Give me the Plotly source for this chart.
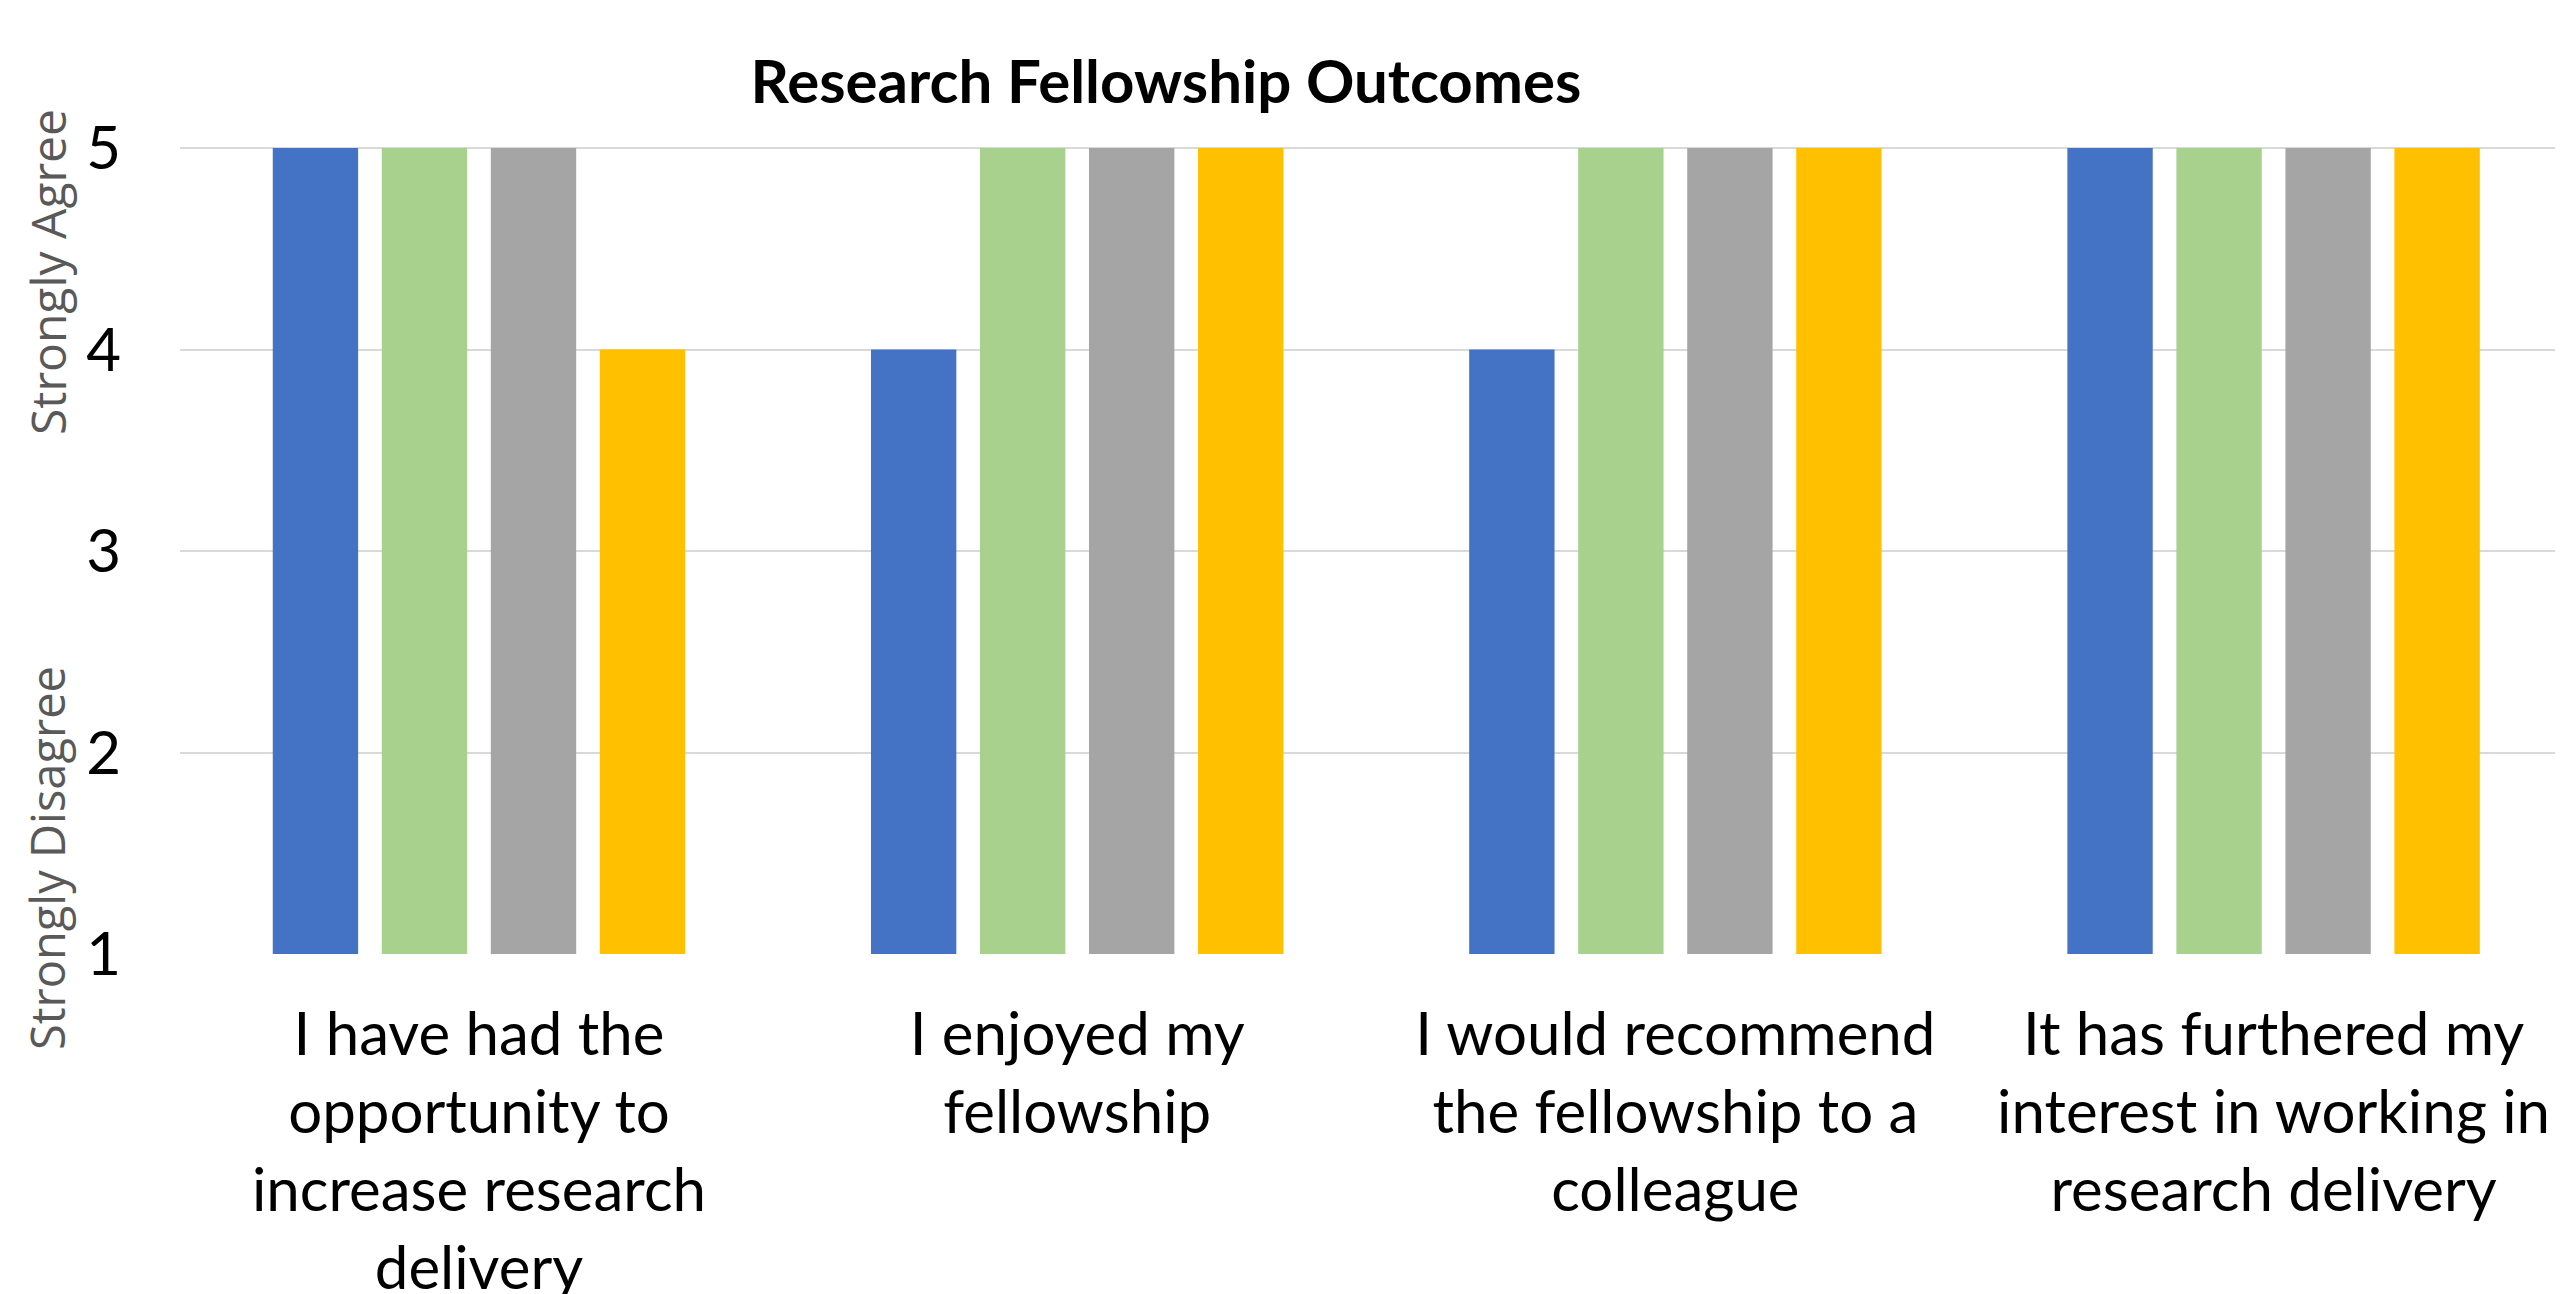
import plotly.graph_objects as go

# ---- data ----
categories = [
    "I have had the opportunity to increase research delivery",
    "I enjoyed my fellowship",
    "I would recommend the fellowship to a colleague",
    "It has furthered my interest in working in research delivery",
]
tick_labels = [
    "I have had the<br>opportunity to<br>increase research<br>delivery",
    "I enjoyed my<br>fellowship",
    "I would recommend<br>the fellowship to a<br>colleague",
    "It has furthered my<br>interest in working in<br>research delivery",
]
series_names = ["Respondent 1", "Respondent 2", "Respondent 3", "Respondent 4"]
series_1 = [5, 4, 4, 5]
series_2 = [5, 5, 5, 5]
series_3 = [5, 5, 5, 5]
series_4 = [4, 5, 5, 5]
y_ticks = [1, 2, 3, 4, 5]
title_text = "Research Fellowship Outcomes"
y_top_label = "Strongly Agree"
y_bottom_label = "Strongly Disagree"

colors = ["#4472C4", "#A9D18E", "#A5A5A5", "#FFC000"]

OFF = 8  # page body margin
W, H = 2563 - OFF, 1294 - OFF
Y_MAX = 5.01
plot_bottom = 954 - OFF
plot_h = round(806 * (Y_MAX - 1) / 4)
L, R, T, B = 180 - OFF, 0, plot_bottom - plot_h, H - plot_bottom

fig = go.Figure()
for name, vals, col in zip(series_names, [series_1, series_2, series_3, series_4], colors):
    fig.add_trace(go.Bar(x=categories, y=vals, name=name, marker=dict(color=col, line=dict(width=0))))

plot_w = W - L - R

def px_x(sx):
    return (sx - OFF - L) / plot_w

def px_y(sy):
    return (plot_bottom - (sy - OFF)) / plot_h

fig.update_layout(
    width=W, height=H,
    margin=dict(l=L, r=R, t=T, b=B, pad=0, autoexpand=False),
    paper_bgcolor="white", plot_bgcolor="white",
    showlegend=False,
    barmode="group", bargap=0.271, bargroupgap=0.217,
    font=dict(family="Lato", color="black"),
    title=dict(text="<b>" + title_text + "</b>", font=dict(family="Lato", size=60, color="black"),
               xref="container", yref="container", x=(1166 - OFF) / W, y=1 - (82 - OFF) / H,
               xanchor="center", yanchor="middle"),
)
fig.update_xaxes(
    tickmode="array", tickvals=categories, ticktext=tick_labels,
    range=[-0.4998, 3.4838], showgrid=False, showline=False, zeroline=False,
    ticks="", tickfont=dict(family="Lato", size=60, color="black"),
    ticklabelstandoff=40, automargin=False,
)
fig.update_yaxes(
    range=[1, Y_MAX], tickmode="array", tickvals=y_ticks,
    showgrid=True, gridcolor="#D9D9D9", gridwidth=2,
    showline=False, zeroline=False, ticks="",
    tickfont=dict(family="Lato", size=60, color="black"),
    ticklabelstandoff=58, automargin=False,
)
for txt, sy, sz in [(y_top_label, 272, 48), (y_bottom_label, 858, 47)]:
    fig.add_annotation(text=txt, xref="paper", yref="paper", x=px_x(47), y=px_y(sy),
                       textangle=-90, showarrow=False, xanchor="center", yanchor="middle",
                       font=dict(family="Open Sans", size=sz, color="#595959"))

fig.write_html("out.html")
